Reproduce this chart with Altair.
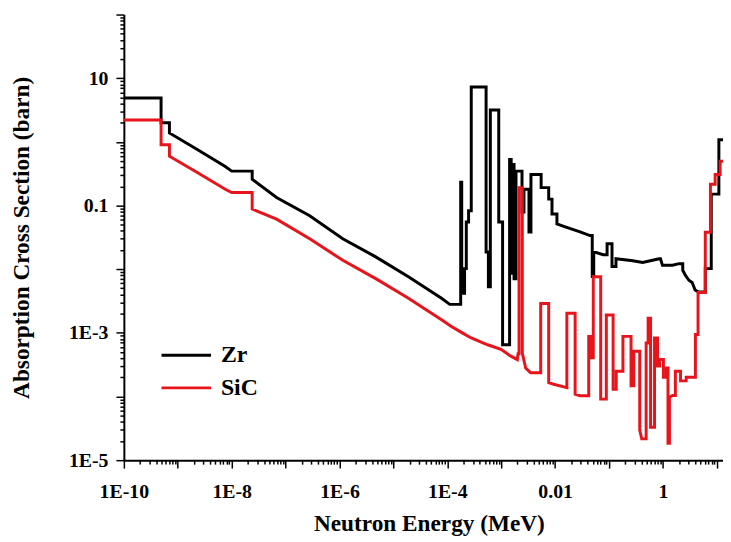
import altair as alt
import pandas as pd

# ---- data (energy in MeV, cross section in barn) ----
zr_energy = [
    1e-10, 4.9e-10, 4.9e-10, 7.0e-10, 7.0e-10, 2.3e-9, 7.6e-9, 1.0e-8, 2.4e-8, 2.4e-8,
    6.8e-8, 2.8e-7, 1.15e-6, 4.7e-6, 1.9e-5, 7.8e-5, 1.11e-4, 1.77e-4, 1.77e-4, 1.85e-4,
    1.85e-4, 2.09e-4, 2.09e-4, 2.25e-4, 2.25e-4, 2.48e-4, 2.48e-4, 2.78e-4, 2.78e-4, 5.24e-4,
    5.24e-4, 5.78e-4, 5.78e-4, 6.28e-4, 6.28e-4, 9.0e-4, 9.0e-4, 1.06e-3, 1.06e-3, 1.43e-3,
    1.43e-3, 1.53e-3, 1.53e-3, 1.63e-3, 1.63e-3, 1.73e-3, 1.73e-3, 1.88e-3, 1.88e-3, 2.43e-3,
    2.43e-3, 2.64e-3, 2.64e-3, 3.27e-3, 3.27e-3, 3.56e-3, 3.56e-3, 5.5e-3, 5.5e-3, 7.6e-3,
    7.6e-3, 8.75e-3, 8.75e-3, 1.08e-2, 1.08e-2, 1.54e-2, 2.9e-2, 4.43e-2, 4.88e-2, 4.88e-2,
    5.2e-2, 5.2e-2, 7.76e-2, 9.2e-2, 9.2e-2, 0.1135, 0.1135, 0.1346, 0.1346, 0.276,
    0.421, 0.643, 0.853, 0.90, 0.98, 1.5, 1.99, 2.33, 2.33, 2.62,
    3.03, 3.48, 3.95, 4.48, 6.1, 6.1, 7.87, 7.87, 10.9, 10.9,
    13.0,
]
zr_sigma = [
    4.9, 4.9, 2.0, 2.0, 1.38, 0.76, 0.41, 0.347, 0.347, 0.258,
    0.134, 0.069, 0.030, 0.0156, 0.0076, 0.0035, 0.0028, 0.0028, 0.232, 0.232,
    0.0042, 0.0042, 0.0102, 0.0102, 0.055, 0.055, 0.083, 0.083, 7.3, 7.3,
    0.0186, 0.0186, 0.0053, 0.0053, 3.17, 3.17, 0.055, 0.055, 6.5e-4, 6.5e-4,
    0.53, 0.53, 0.0086, 0.0086, 0.44, 0.44, 0.0071, 0.0071, 0.347, 0.347,
    0.079, 0.079, 0.18, 0.18, 0.0385, 0.0385, 0.308, 0.308, 0.191, 0.191,
    0.126, 0.126, 0.0734, 0.0734, 0.0513, 0.0461, 0.0385, 0.0337, 0.0337, 0.0077,
    0.0077, 0.0188, 0.0169, 0.0169, 0.0251, 0.0251, 0.0110, 0.0110, 0.0146, 0.0136,
    0.0127, 0.0138, 0.0146, 0.0146, 0.0115, 0.0115, 0.0122, 0.0122, 0.0096, 0.0080,
    0.0067, 0.0062, 0.0047, 0.0044, 0.0044, 0.0102, 0.0102, 0.151, 0.151, 1.08,
    1.08,
]
sic_energy = [
    1e-10, 4.9e-10, 4.9e-10, 7.0e-10, 7.0e-10, 2.3e-9, 7.6e-9, 1.0e-8, 2.4e-8, 2.4e-8,
    6.8e-8, 2.8e-7, 1.15e-6, 4.7e-6, 1.9e-5, 7.8e-5, 1.19e-4, 1.93e-4, 2.78e-4, 5.6e-4,
    9.9e-4, 1.51e-3, 1.99e-3, 2.05e-3, 2.14e-3, 2.14e-3, 2.46e-3, 2.46e-3, 2.84e-3, 3.5e-3,
    5.4e-3, 5.4e-3, 7.6e-3, 7.6e-3, 9.4e-3, 1.65e-2, 1.65e-2, 2.35e-2, 2.35e-2, 2.9e-2,
    4.2e-2, 4.2e-2, 4.5e-2, 4.5e-2, 5.1e-2, 5.1e-2, 7.0e-2, 7.0e-2, 8.9e-2, 8.9e-2,
    0.119, 0.119, 0.136, 0.136, 0.181, 0.181, 0.256, 0.256, 0.288, 0.288,
    0.371, 0.371, 0.404, 0.488, 0.488, 0.531, 0.531, 0.59, 0.59, 0.698,
    0.698, 0.792, 0.792, 0.863, 0.863, 1.02, 1.02, 1.16, 1.16, 1.24,
    1.24, 1.32, 1.32, 1.5, 1.7, 1.7, 2.12, 2.12, 2.7, 2.7,
    4.0, 4.0, 4.48, 4.48, 6.1, 6.1, 7.6, 7.6, 9.3, 9.3,
    11.5, 11.5, 13.0,
]
sic_sigma = [
    2.2, 2.2, 0.90, 0.90, 0.594, 0.331, 0.180, 0.160, 0.160, 0.088,
    0.061, 0.030, 0.0138, 0.0071, 0.0035, 0.0016, 0.00126, 0.00099, 0.00083, 0.00065,
    0.00055, 0.00043, 0.00038, 0.00047, 0.00047, 0.191, 0.191, 0.00048, 0.00028, 0.000237,
    0.000237, 0.0029, 0.0029, 0.000165, 0.000156, 0.000138, 0.00203, 0.00203, 0.000109, 0.000103,
    0.000103, 0.00088, 0.00088, 0.000405, 0.000405, 0.0076, 0.0076, 9.1e-5, 9.1e-5, 0.0019,
    0.0019, 0.00013, 0.00013, 0.00025, 0.00025, 0.00088, 0.00088, 0.000147, 0.000147, 0.000515,
    0.000515, 2.96e-5, 2.16e-5, 2.16e-5, 0.00069, 0.00069, 0.0017, 0.0017, 3.3e-5, 3.3e-5,
    0.00083, 0.00083, 0.0003, 0.0003, 0.00038, 0.00038, 0.0002, 0.0002, 0.00028, 0.00028,
    1.85e-5, 1.85e-5, 9.7e-5, 0.000104, 0.000104, 0.00025, 0.00025, 0.000176, 0.000176, 0.0002,
    0.0002, 0.00094, 0.00094, 0.0043, 0.0043, 0.038, 0.038, 0.216, 0.216, 0.308,
    0.308, 0.497, 0.497,
]

series_names = ["Zr", "SiC"]
series_colors = ["#000000", "#e8141c"]

x_label_values = [1e-10, 1e-8, 1e-6, 1e-4, 1e-2, 1.0]
x_label_texts = ["1E-10", "1E-8", "1E-6", "1E-4", "0.01", "1"]
y_label_values = [1e-5, 1e-3, 0.1, 10.0]
y_label_texts = ["1E-5", "1E-3", "0.1", "10"]

x_min, x_max = 1e-10, 13.0
y_min, y_max = 1e-5, 100.0

assert len(zr_energy) == len(zr_sigma)
assert len(sic_energy) == len(sic_sigma)

rows = []
for name, es, ss in [("Zr", zr_energy, zr_sigma), ("SiC", sic_energy, sic_sigma)]:
    for i, (e, s) in enumerate(zip(es, ss)):
        rows.append({"series": name, "energy": e, "sigma": s, "idx": i})
df = pd.DataFrame(rows)


def log_ticks(lo_exp, hi_exp, vmax):
    vals = []
    for d in range(lo_exp, hi_exp + 1):
        for k in range(1, 10):
            v = float(f"{k}e{d}")
            if v <= vmax * 1.000001:
                vals.append(v)
    return vals


def decades(lo_exp, hi_exp):
    return [float(f"1e{d}") for d in range(lo_exp, hi_exp + 1)]


def label_expr(values, texts):
    expr = "''"
    for v, t in reversed(list(zip(values, texts))):
        expr = f"datum.value == {repr(v)} ? '{t}' : ({expr})"
    return expr


def major_test(values):
    return "indexof([" + ",".join(repr(v) for v in values) + "], datum.value) >= 0"


x_ticks = log_ticks(-10, 1, x_max)
y_ticks = log_ticks(-5, 2, y_max)

FONT = "Liberation Serif"

x_axis = alt.Axis(
    values=x_ticks,
    labelExpr=label_expr(x_label_values, x_label_texts),
    tickSize={"condition": {"test": major_test(decades(-10, 1)), "value": 8}, "value": 4},
    labelPadding=14,
    titleX=308,
    titleY=52,
)
y_axis = alt.Axis(
    values=y_ticks,
    labelExpr=label_expr(y_label_values, y_label_texts),
    tickSize={"condition": {"test": major_test(decades(-5, 2)), "value": 8}, "value": 4},
    labelPadding=8,
    titleX=-91,
    titleY=225,
)

# a wide horizontal stroke drawn with a compact symbol size keeps rows close together
legend = alt.Legend(
    orient="none",
    legendX=49,
    legendY=330,
    title=None,
    symbolType="M-2,0H2",
    symbolSize=625,
    symbolStrokeWidth=3,
    symbolFillColor="transparent",
    labelFont=FONT,
    labelFontWeight="bold",
    labelFontSize=24,
    labelColor="black",
    labelOffset=21,
    rowPadding=7,
    padding=0,
)

chart = (
    alt.Chart(df)
    .mark_line(strokeWidth=3, clip=True)
    .encode(
        x=alt.X("energy:Q",
                scale=alt.Scale(type="log", domain=[x_min, x_max], nice=False),
                axis=x_axis, title="Neutron Energy (MeV)"),
        y=alt.Y("sigma:Q",
                scale=alt.Scale(type="log", domain=[y_min, y_max], nice=False),
                axis=y_axis, title="Absorption Cross Section (barn)"),
        color=alt.Color("series:N",
                        scale=alt.Scale(domain=series_names, range=series_colors),
                        legend=legend),
        order=alt.Order("idx:Q"),
    )
    .properties(
        width=605,
        height=450,
        autosize=alt.AutoSizeParams(type="none"),
        padding={"left": 117, "top": 4, "right": 0, "bottom": 76},
    )
    .configure_view(strokeWidth=0)
    .configure_axis(
        grid=False,
        domainColor="black",
        domainWidth=2,
        tickColor="black",
        tickWidth=1.5,
        labelFont=FONT,
        labelFontWeight="bold",
        labelFontSize=20,
        labelColor="black",
        labelOverlap=False,
        labelFlush=False,
        titleFont=FONT,
        titleFontWeight="bold",
        titleFontSize=23.5,
        titleColor="black",
    )
)

chart.save("out.html", embed_options={"renderer": "svg", "actions": False})
